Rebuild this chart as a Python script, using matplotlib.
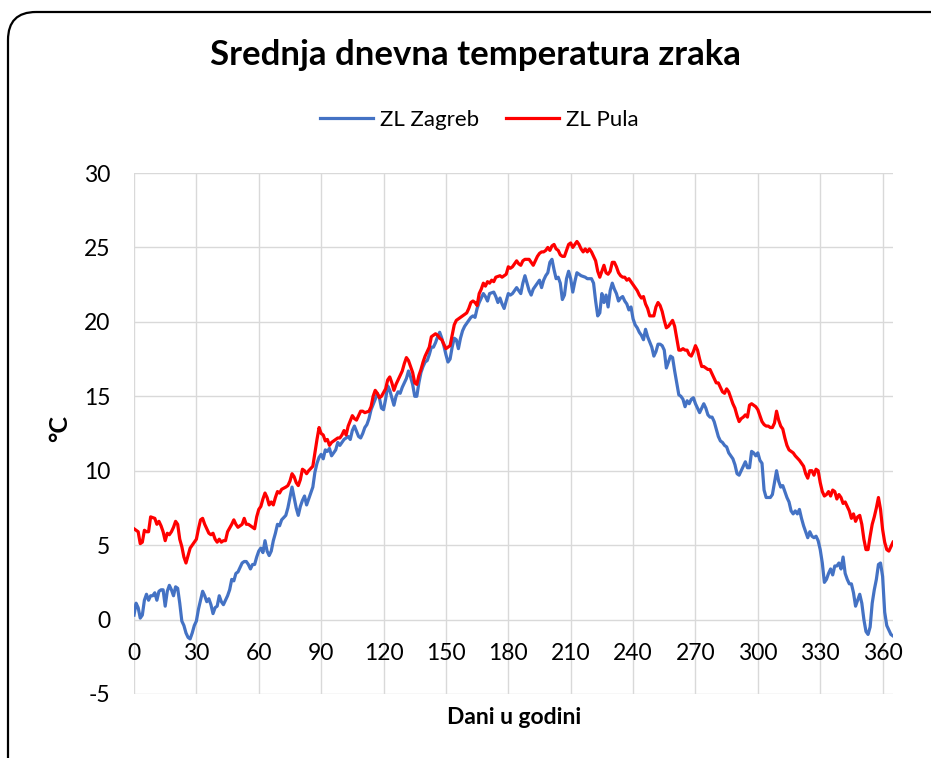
import matplotlib
matplotlib.use("Agg")
import matplotlib.pyplot as plt
from matplotlib.patches import FancyBboxPatch

# Srednja dnevna temperatura zraka (ocitano sa slike)
dani_pula = [0, 2, 3, 4, 5, 6, 7, 8, 10, 11, 12, 13, 14, 15, 16, 17, 18, 19, 20, 21,
             22, 23, 24, 25, 26, 27, 28, 30, 31, 32, 33, 34, 35, 36, 37, 38, 39, 40, 41, 42,
             43, 44, 45, 47, 48, 49, 50, 51, 52, 53, 54, 55, 57, 58, 59, 60, 61, 62, 63, 64,
             65, 66, 67, 68, 69, 70, 71, 73, 74, 75, 76, 77, 78, 79, 80, 81, 82, 83, 84, 86,
             87, 88, 89, 90, 91, 92, 93, 94, 95, 97, 98, 99, 100, 101, 102, 103, 105, 106, 107, 108,
             109, 110, 111, 113, 114, 115, 116, 117, 118, 119, 121, 122, 123, 124, 125, 126, 127, 128, 129, 130,
             131, 132, 134, 135, 136, 137, 138, 139, 140, 141, 142, 143, 144, 145, 146, 147, 148, 150, 152, 153,
             154, 155, 156, 157, 158, 160, 161, 162, 163, 164, 165, 166, 167, 168, 169, 170, 171, 172, 173, 174,
             176, 177, 178, 179, 180, 181, 182, 183, 184, 185, 186, 187, 188, 190, 191, 192, 193, 194, 195, 196,
             197, 198, 199, 200, 201, 202, 203, 204, 205, 206, 207, 208, 209, 210, 211, 212, 213, 214, 215, 216,
             217, 218, 219, 220, 222, 223, 224, 225, 226, 227, 228, 229, 230, 231, 232, 233, 234, 235, 236, 237,
             238, 239, 240, 241, 242, 243, 244, 245, 246, 247, 248, 250, 251, 252, 253, 254, 255, 256, 257, 258,
             259, 260, 261, 262, 263, 264, 265, 266, 267, 268, 269, 270, 271, 272, 273, 274, 275, 276, 277, 278,
             279, 280, 281, 282, 283, 284, 285, 286, 287, 288, 289, 290, 291, 292, 293, 294, 295, 296, 297, 298,
             299, 300, 301, 302, 303, 304, 305, 306, 307, 308, 309, 310, 311, 312, 313, 314, 315, 316, 317, 318,
             320, 321, 322, 323, 324, 325, 326, 327, 328, 329, 330, 331, 332, 333, 334, 335, 336, 337, 338, 339,
             340, 341, 342, 343, 344, 345, 346, 347, 348, 349, 350, 351, 352, 353, 354, 355, 356, 357, 358, 359,
             360, 361, 362, 363, 364, 365]
pula = [6.1, 5.9, 5.1, 5.2, 6.0, 5.9, 5.9, 6.9, 6.8, 6.4, 6.6, 6.3, 5.9, 5.3, 5.8, 5.7, 5.9, 6.2, 6.6, 6.4,
        5.4, 4.9, 4.2, 3.8, 4.3, 4.8, 5.0, 5.4, 6.1, 6.7, 6.8, 6.4, 6.1, 5.8, 5.7, 5.8, 5.4, 5.2, 5.4, 5.2,
        5.3, 5.3, 5.9, 6.4, 6.7, 6.4, 6.2, 6.3, 6.4, 6.8, 6.4, 6.4, 6.2, 6.1, 6.9, 7.4, 7.6, 8.1, 8.5, 8.2,
        7.7, 7.9, 7.7, 8.2, 8.6, 8.5, 8.75, 8.9, 9.0, 9.3, 9.8, 9.6, 9.2, 9.0, 9.4, 10.1, 10.0, 9.8, 10.0, 10.3,
        11.2, 12.1, 12.9, 12.5, 12.4, 12.0, 12.1, 11.7, 11.9, 12.1, 12.2, 12.2, 12.4, 12.7, 12.4, 13.0, 13.7, 13.5, 13.4, 13.7,
        14.0, 14.0, 13.9, 14.0, 14.3, 15.0, 15.4, 15.2, 14.9, 15.0, 15.5, 16.1, 16.3, 15.9, 15.4, 15.8, 16.1, 16.4, 16.7, 17.2,
        17.6, 17.4, 16.6, 15.9, 15.8, 16.4, 16.8, 17.3, 17.7, 18.0, 18.3, 19.0, 19.1, 19.2, 19.1, 18.9, 18.8, 18.2, 18.4, 19.1,
        19.8, 20.1, 20.2, 20.3, 20.4, 20.6, 20.9, 21.3, 21.4, 21.3, 21.1, 21.9, 22.2, 22.6, 22.4, 22.7, 22.6, 22.8, 22.7, 23.0,
        23.1, 23.0, 23.1, 23.2, 23.7, 23.6, 23.7, 23.9, 24.1, 23.9, 23.8, 24.1, 24.2, 24.2, 24.0, 23.8, 24.1, 24.4, 24.6, 24.7,
        24.7, 24.8, 25.0, 24.8, 25.1, 25.2, 24.9, 24.8, 24.5, 24.4, 24.4, 24.8, 25.2, 25.3, 25.0, 25.2, 25.4, 25.2, 24.9, 24.7,
        24.9, 24.7, 24.9, 24.7, 24.1, 23.4, 23.0, 23.4, 23.8, 23.3, 23.2, 23.4, 24.0, 24.0, 23.7, 23.3, 23.1, 23.0, 23.0, 22.8,
        22.9, 22.7, 22.5, 22.3, 22.1, 21.8, 21.6, 21.7, 21.2, 20.9, 20.4, 20.4, 21.0, 21.3, 21.1, 20.7, 20.1, 19.6, 19.7, 19.9,
        20.1, 19.7, 18.9, 18.1, 18.1, 18.2, 18.1, 18.1, 17.8, 17.7, 18.0, 18.4, 18.1, 17.5, 17.0, 17.0, 16.9, 16.8, 16.8, 16.5,
        16.2, 15.9, 15.9, 15.6, 15.3, 15.2, 15.5, 15.3, 14.9, 14.5, 14.2, 13.7, 13.3, 13.5, 13.6, 13.75, 13.6, 14.4, 14.5, 14.4,
        14.3, 14.1, 13.7, 13.3, 13.1, 13.0, 13.0, 12.9, 12.9, 13.2, 14.0, 13.4, 13.0, 12.8, 12.2, 11.7, 11.4, 11.3, 11.2, 11.0,
        10.7, 10.5, 10.3, 9.8, 9.5, 10.0, 10.0, 9.7, 10.1, 10.0, 9.2, 8.6, 8.3, 8.4, 8.6, 8.3, 8.7, 8.6, 8.1, 8.4,
        8.2, 7.8, 7.9, 7.6, 7.3, 6.8, 7.1, 6.6, 6.9, 7.0, 6.4, 5.4, 4.7, 4.7, 5.6, 6.4, 6.9, 7.5, 8.2, 7.4,
        6.05, 5.2, 4.7, 4.6, 4.9, 5.2]

dani_zagreb = [0, 1, 2, 3, 4, 5, 6, 7, 8, 9, 10, 11, 12, 13, 14, 15, 16, 17, 18, 19,
               20, 21, 22, 23, 24, 25, 26, 27, 28, 29, 30, 31, 32, 33, 34, 35, 36, 37, 38, 39,
               40, 41, 42, 43, 45, 46, 47, 48, 49, 50, 52, 53, 54, 55, 56, 57, 58, 59, 60, 61,
               62, 63, 64, 65, 66, 67, 68, 69, 70, 71, 73, 74, 75, 76, 77, 78, 79, 80, 81, 82,
               83, 84, 85, 86, 87, 88, 89, 90, 91, 92, 93, 94, 95, 97, 98, 99, 100, 101, 103, 104,
               105, 106, 108, 109, 110, 111, 112, 113, 114, 116, 117, 118, 119, 120, 121, 122, 123, 124, 125, 126,
               127, 128, 129, 130, 131, 132, 133, 134, 135, 136, 137, 138, 139, 140, 141, 142, 143, 144, 145, 146,
               147, 148, 149, 150, 151, 152, 153, 154, 155, 156, 157, 158, 159, 160, 161, 162, 163, 164, 165, 166,
               167, 168, 169, 170, 171, 173, 174, 175, 176, 177, 178, 179, 180, 181, 182, 183, 184, 185, 186, 187,
               188, 189, 190, 191, 192, 193, 194, 195, 196, 197, 198, 199, 200, 201, 202, 203, 204, 205, 206, 207,
               208, 209, 210, 211, 212, 213, 214, 215, 217, 218, 219, 220, 221, 222, 223, 224, 225, 226, 227, 228,
               229, 230, 231, 232, 233, 234, 235, 236, 237, 238, 239, 240, 241, 242, 243, 244, 245, 246, 247, 249,
               250, 251, 252, 253, 254, 255, 256, 257, 258, 259, 260, 261, 262, 263, 264, 265, 266, 267, 268, 269,
               270, 271, 272, 273, 274, 275, 276, 277, 278, 279, 280, 281, 282, 283, 284, 285, 286, 287, 288, 289,
               290, 291, 292, 293, 294, 295, 296, 297, 298, 299, 300, 301, 302, 303, 304, 305, 306, 307, 308, 309,
               310, 311, 312, 313, 314, 315, 316, 317, 318, 319, 320, 321, 322, 323, 324, 325, 326, 327, 328, 329,
               330, 331, 332, 333, 334, 335, 336, 337, 338, 339, 340, 341, 342, 343, 344, 345, 346, 347, 348, 349,
               350, 351, 352, 353, 354, 355, 356, 357, 358, 359, 360, 361, 362, 363, 364, 365]
zagreb = [0.3, 1.1, 0.8, 0.1, 0.3, 1.3, 1.7, 1.3, 1.6, 1.6, 1.8, 1.3, 1.9, 2.0, 2.0, 0.9, 1.9, 2.3, 2.0, 1.6,
          2.2, 2.1, 1.1, -0.1, -0.4, -0.9, -1.2, -1.3, -0.9, -0.4, -0.1, 0.7, 1.3, 1.9, 1.6, 1.2, 1.4, 1.0, 0.4, 0.8,
          0.9, 1.6, 1.2, 1.0, 1.6, 2.0, 2.7, 2.6, 3.1, 3.2, 3.8, 3.9, 3.9, 3.7, 3.4, 3.7, 3.7, 4.2, 4.6, 4.8,
          4.5, 5.3, 4.6, 4.3, 4.6, 5.3, 5.8, 6.4, 6.3, 6.7, 7.0, 7.5, 8.2, 8.9, 8.2, 7.5, 7.0, 7.6, 8.0, 8.3,
          7.7, 8.1, 8.5, 8.9, 9.9, 10.5, 10.9, 11.1, 10.8, 11.4, 11.3, 11.5, 11.0, 11.4, 11.9, 11.7, 11.9, 12.1, 12.3, 12.1,
          12.7, 13.0, 12.3, 12.2, 12.5, 12.9, 13.1, 13.5, 14.1, 14.8, 15.2, 14.9, 14.2, 14.1, 14.8, 15.7, 15.4, 14.9, 14.4, 15.0,
          15.3, 15.2, 15.6, 15.9, 16.2, 16.7, 16.3, 15.8, 15.0, 15.0, 15.9, 16.6, 17.0, 17.3, 17.4, 17.8, 18.3, 18.3, 18.6, 19.0,
          19.3, 18.9, 18.4, 17.8, 17.3, 17.5, 18.3, 18.9, 18.8, 18.2, 18.9, 19.4, 19.7, 19.9, 20.1, 20.3, 20.4, 20.3, 20.9, 21.3,
          21.6, 21.9, 21.7, 21.4, 21.9, 22.0, 21.7, 21.3, 21.6, 21.2, 20.9, 21.4, 21.9, 21.8, 21.9, 22.1, 22.3, 22.1, 21.9, 22.6,
          23.1, 22.6, 22.1, 21.8, 22.2, 22.4, 22.6, 22.8, 22.3, 22.8, 23.1, 23.3, 24.0, 24.2, 23.5, 22.9, 23.0, 22.6, 21.5, 21.8,
          22.9, 23.4, 22.9, 22.0, 22.7, 23.3, 23.2, 23.1, 23.0, 22.9, 22.9, 22.9, 22.6, 21.4, 20.4, 20.6, 21.9, 21.3, 21.8, 21.0,
          22.1, 22.6, 22.2, 21.9, 21.4, 21.6, 21.7, 21.4, 21.2, 20.8, 21.0, 20.2, 19.8, 19.6, 19.3, 19.1, 18.8, 19.5, 19.0, 18.3,
          17.7, 18.0, 18.5, 18.5, 18.4, 18.1, 16.9, 17.3, 17.7, 17.6, 16.7, 15.9, 15.1, 15.0, 14.8, 14.3, 14.7, 14.5, 14.8, 14.9,
          14.5, 14.2, 13.9, 14.2, 14.5, 14.2, 13.75, 13.6, 13.6, 13.3, 12.8, 12.3, 12.0, 11.9, 11.7, 11.6, 11.2, 11.0, 10.8, 10.4,
          9.8, 9.7, 10.0, 10.3, 10.6, 10.2, 10.2, 11.3, 11.2, 11.0, 11.2, 10.7, 10.5, 8.7, 8.2, 8.2, 8.2, 8.4, 9.2, 10.0,
          9.3, 8.9, 9.0, 8.6, 8.2, 7.9, 7.3, 7.1, 7.3, 7.1, 7.4, 6.8, 6.3, 5.9, 5.5, 5.9, 5.6, 5.5, 5.6, 5.3,
          4.7, 3.8, 2.5, 2.7, 3.1, 3.4, 3.0, 3.6, 3.6, 3.8, 3.4, 4.2, 3.1, 2.7, 2.4, 2.4, 1.8, 0.9, 1.3, 1.7,
          1.1, 0.0, -0.8, -1.0, -0.5, 1.1, 2.0, 2.7, 3.7, 3.8, 2.9, 0.5, -0.4, -0.7, -1.0, -1.1]

x_ticks = list(range(0, 361, 30))
y_ticks = list(range(-5, 31, 5))

plt.rcParams['font.family'] = ['Lato', 'DejaVu Sans']
plt.rcParams['axes.unicode_minus'] = False

W, H = 931, 758
PAD = 10  # 0.1 inch, rub koji tight bbox dodaje oko sadrzaja
fig = plt.figure(figsize=(W / 100, H / 100), dpi=100)

# nevidljiva os koja drzi granice slike; okvir se crta u pikselima
ax0 = fig.add_axes([PAD / W, PAD / H, 1 - 2 * PAD / W, 1 - 2 * PAD / H], zorder=0)
ax0.set_xlim(PAD, W - PAD)
ax0.set_ylim(H - PAD, PAD)
ax0.axis('off')
okvir = FancyBboxPatch((8, 12), 955, 778, boxstyle='round,pad=0,rounding_size=28',
                       facecolor='none', edgecolor='black', linewidth=1.6, clip_on=False)
okvir.set_in_layout(False)
ax0.add_patch(okvir)

ax = fig.add_axes([134 / W, 1 - 694 / H, (893 - 134) / W, (694 - 173) / H], zorder=1)
ax.patch.set_alpha(0)

ax.plot(dani_zagreb, zagreb, color='#4472C4', linewidth=2.3, label='ZL Zagreb',
        solid_joinstyle='round', zorder=3)
ax.plot(dani_pula, pula, color='#FF0000', linewidth=2.3, label='ZL Pula',
        solid_joinstyle='round', zorder=4)

ax.set_xlim(0, 365)
ax.set_ylim(-5, 30)
ax.set_xticks(x_ticks)
ax.set_yticks(y_ticks)
ax.grid(True, color='#D9D9D9', linewidth=1.0)
ax.set_axisbelow(True)

for s in ['top', 'right', 'left']:
    ax.spines[s].set_visible(False)
# kategorijska os sijece vrijednosnu u nuli
ax.spines['bottom'].set_position(('data', 0))
ax.spines['bottom'].set_visible(False)

ax.tick_params(axis='both', length=0, labelsize=16.5, colors='black')
ax.tick_params(axis='x', pad=17)
ax.tick_params(axis='y', pad=17)

fig.text(514 / W, 1 - 717 / H, 'Dani u godini', ha='center', va='center',
         fontsize=16.5, fontweight='bold')
fig.text(60 / W, 1 - 428 / H, '°C', ha='center', va='center', rotation=90,
         fontsize=18, fontweight='bold')

fig.text(475 / W, 1 - 55 / H, 'Srednja dnevna temperatura zraka', ha='center', va='center',
         fontsize=25, fontweight='bold')

fig.legend(loc='center', bbox_to_anchor=(479 / W, 1 - 120 / H), ncol=2, frameon=False,
           fontsize=16, handlelength=2.4, columnspacing=1.2, handletextpad=0.3)

fig.savefig('out.png', dpi=100)
